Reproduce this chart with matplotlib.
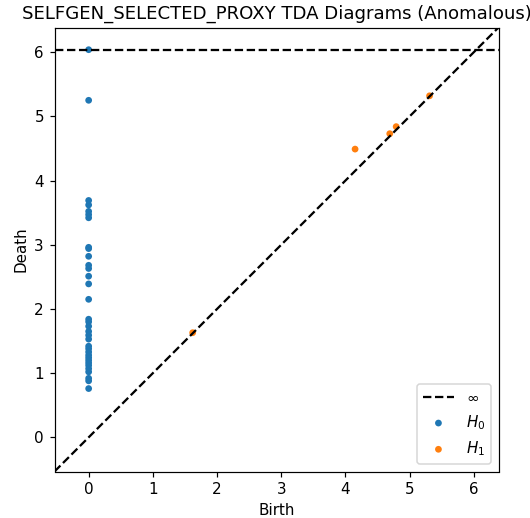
import numpy as np
import matplotlib
matplotlib.use("Agg")
import matplotlib.pyplot as plt

# H0 pairs (birth, death); inf is the essential class
h0_birth = [0.0] * 34
h0_death = [np.inf, 5.25, 3.69, 3.62, 3.52, 3.47, 3.42, 2.96, 2.94, 2.82, 2.68, 2.63,
            2.51, 2.39, 2.15, 1.84, 1.80, 1.73, 1.65, 1.59, 1.53, 1.42, 1.38, 1.33,
            1.28, 1.24, 1.20, 1.16, 1.12, 1.07, 1.02, 0.92, 0.88, 0.76]

# H1 pairs
h1_birth = [1.62, 4.15, 4.69, 4.79, 5.31]
h1_death = [1.63, 4.49, 4.73, 4.84, 5.32]

title = "SELFGEN_SELECTED_PROXY TDA Diagrams (Anomalous)"

dgms = [np.column_stack([h0_birth, h0_death]), np.column_stack([h1_birth, h1_death])]

# same limits logic as persim.plot_diagrams
allv = np.concatenate(dgms).flatten()
finite = allv[np.isfinite(allv)]
ax_min, ax_max = finite.min(), finite.max()
buffer = (ax_max - ax_min) / 5
x_down = ax_min - buffer / 2
x_up = ax_max + buffer
y_down, y_up = x_down, x_up
b_inf = y_down + (y_up - y_down) * 0.95

dpi = 108.5
fig = plt.figure(figsize=(530 / dpi, 518 / dpi), dpi=dpi)
ax = fig.add_axes([54.5 / 530, 46.5 / 518, 444 / 530, 444 / 518])

ax.plot([x_down, x_up], [x_down, x_up], "--", c="k")
ax.plot([x_down, x_up], [b_inf, b_inf], "--", c="k", label=r"$\infty$")

for i, d in enumerate(dgms):
    d = d.copy()
    d[np.isinf(d[:, 1]), 1] = b_inf
    ax.scatter(d[:, 0], d[:, 1], 20, label="$H_%d$" % i, edgecolor="none")

ax.set_xlim([x_down, x_up])
ax.set_ylim([y_down, y_up])
ax.set_aspect("equal", "box")
ax.set_xlabel("Birth")
ax.set_ylabel("Death")
ax.set_title(title)
ax.legend(loc="lower right")

fig.savefig("out.png", dpi=dpi)
